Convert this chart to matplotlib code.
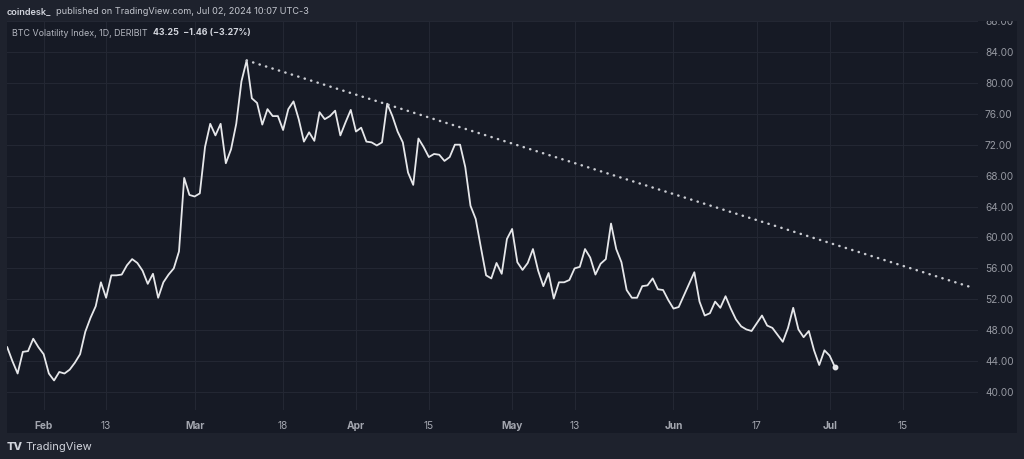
import numpy as np
import pandas as pd
import matplotlib
matplotlib.use("Agg")
import matplotlib.pyplot as plt
from matplotlib.patches import Rectangle
from matplotlib.text import Annotation

plt.rcParams["font.family"] = ["Inter", "DejaVu Sans"]

# daily BTC volatility index values, Jan 25 to Jul 02 2024
start_date = "2024-01-25"
dvol = [
    45.8, 44.0, 42.4, 45.2, 45.3, 46.9, 45.8, 44.9, 42.4, 41.5,
    42.6, 42.4, 42.9, 43.8, 44.9, 47.8, 49.6, 51.1, 54.2, 52.2,
    55.1, 55.1, 55.2, 56.4, 57.2, 56.7, 55.7, 54.0, 55.3, 52.2,
    54.2, 55.2, 56.0, 58.2, 67.7, 65.5, 65.3, 65.7, 71.7, 74.7,
    73.2, 74.7, 69.6, 71.4, 74.7, 80.2, 82.9, 78.0, 77.4, 74.6,
    76.6, 75.7, 75.7, 73.9, 76.6, 77.6, 75.3, 72.4, 73.6, 72.5,
    76.2, 75.3, 75.7, 76.4, 73.2, 74.9, 76.5, 73.7, 74.2, 72.4,
    72.3, 71.9, 72.3, 77.3, 75.7, 73.7, 72.3, 68.4, 66.8, 72.8,
    71.7, 70.4, 70.8, 70.7, 69.9, 70.4, 72.0, 72.0, 69.1, 64.1,
    62.4, 58.7, 55.1, 54.7, 56.7, 55.3, 59.8, 61.1, 56.8, 55.8,
    56.7, 58.5, 55.7, 53.7, 55.4, 52.1, 54.2, 54.2, 54.5, 56.0,
    56.2, 58.5, 57.4, 55.2, 56.6, 57.2, 61.8, 58.5, 56.8, 53.2,
    52.2, 52.2, 53.7, 53.8, 54.7, 53.3, 53.2, 51.9, 50.8, 51.0,
    52.5, 54.0, 55.5, 51.7, 49.9, 50.2, 51.7, 50.9, 52.4, 50.8,
    49.4, 48.5, 48.1, 47.9, 48.9, 49.9, 48.6, 48.3, 47.4, 46.5,
    48.3, 50.9, 48.1, 47.1, 47.9, 45.4, 43.5, 45.4, 44.71, 43.25,
]

# dotted trend line (two anchor points)
trend_dates = ["2024-03-11", "2024-07-28"]
trend_vals = [82.9, 53.6]

y_ticks = [40, 44, 48, 52, 56, 60, 64, 68, 72, 76, 80, 84, 88]
x_tick_dates = ["2024-02-01", "2024-02-13", "2024-03-01", "2024-03-18",
                "2024-04-01", "2024-04-15", "2024-05-01", "2024-05-13",
                "2024-06-01", "2024-06-17", "2024-07-01", "2024-07-15"]
x_tick_labels = ["Feb", "13", "Mar", "18", "Apr", "15",
                 "May", "13", "Jun", "17", "Jul", "15"]

dates = pd.date_range(start_date, periods=len(dvol), freq="D")

W, H = 1024, 459
fig = plt.figure(figsize=(W / 100, H / 100), dpi=100)
fig.patch.set_facecolor("#1e222d")

# darker chart panel
fig.add_artist(Rectangle((7 / W, (H - 433) / H), (1017 - 7) / W, (433 - 21) / H,
                         transform=fig.transFigure, facecolor="#161a25",
                         edgecolor="none", zorder=-1))

ax = fig.add_axes([7 / W, (H - 410) / H, (978 - 7) / W, (410 - 21) / H])
ax.set_facecolor("#161a25")

ax.plot(dates, dvol, color="#e6e7ea", lw=1.3, solid_joinstyle="round", zorder=3)
ax.plot(dates[-1], dvol[-1], "o", color="#e6e7ea", ms=3.2, zorder=4)
ax.plot(pd.to_datetime(trend_dates), trend_vals, color="#c9cbd1", lw=1.8,
        linestyle=(0, (0.1, 2.6)), dash_capstyle="round", zorder=3)

ax.set_ylim(37.68, 87.87)
ax.set_xlim(pd.Timestamp("2024-01-24 23:00"), pd.Timestamp("2024-07-29 12:00"))

ax.yaxis.tick_right()
ax.set_yticks(y_ticks)
ax.set_yticklabels([f"{v:.2f}" for v in y_ticks])
ax.set_xticks(pd.to_datetime(x_tick_dates))
ax.set_xticklabels(x_tick_labels)
for lab, txt in zip(ax.get_xticklabels(), x_tick_labels):
    if not txt.isdigit():
        lab.set_fontweight("bold")
ax.tick_params(axis="y", length=0, pad=5, labelsize=7.3, labelcolor="#9598a1")
ax.tick_params(axis="x", length=0, pad=8, labelsize=7.3, labelcolor="#a3a6af")
ax.grid(True, color="#232733", lw=0.8)
ax.set_axisbelow(True)
for s in ax.spines.values():
    s.set_visible(False)

# header strip (covers the clipped top label like the original)
fig.add_artist(Rectangle((0, (H - 21) / H), 1, 21 / H, transform=fig.transFigure,
                         facecolor="#1e222d", edgecolor="none", zorder=5))
t1 = fig.text(7 / W, 1 - 12 / H, "coindesk_", color="#d1d4dc", fontsize=6.6,
              fontweight="semibold", va="center", zorder=6)
fig.add_artist(Annotation("published on TradingView.com, Jul 02, 2024 10:07 UTC-3",
                          xy=(1, 0.5), xycoords=t1, xytext=(3, 0),
                          textcoords="offset points", color="#c3c6ce",
                          fontsize=6.6, va="center", ha="left", zorder=6))
t2 = fig.text(12 / W, 1 - 33 / H, "BTC Volatility Index, 1D, DERIBIT", color="#b2b5be",
              fontsize=6.4, va="center", zorder=6)
fig.add_artist(Annotation("43.25  \u22121.46 (\u22123.27%)", xy=(1, 0.5), xycoords=t2,
                          xytext=(4, 0), textcoords="offset points", color="#d1d4dc",
                          fontsize=6.4, fontweight="bold", va="center", ha="left",
                          zorder=6))

# footer
t3 = fig.text(7 / W, 1 - 447 / H, "TV", color="#d1d4dc", fontsize=8,
              fontweight="heavy", va="center")
fig.add_artist(Annotation("TradingView", xy=(1, 0.5), xycoords=t3, xytext=(2, 0),
                          textcoords="offset points", color="#d1d4dc", fontsize=8,
                          va="center", ha="left"))

fig.savefig("out.png", dpi=100, facecolor=fig.get_facecolor())
